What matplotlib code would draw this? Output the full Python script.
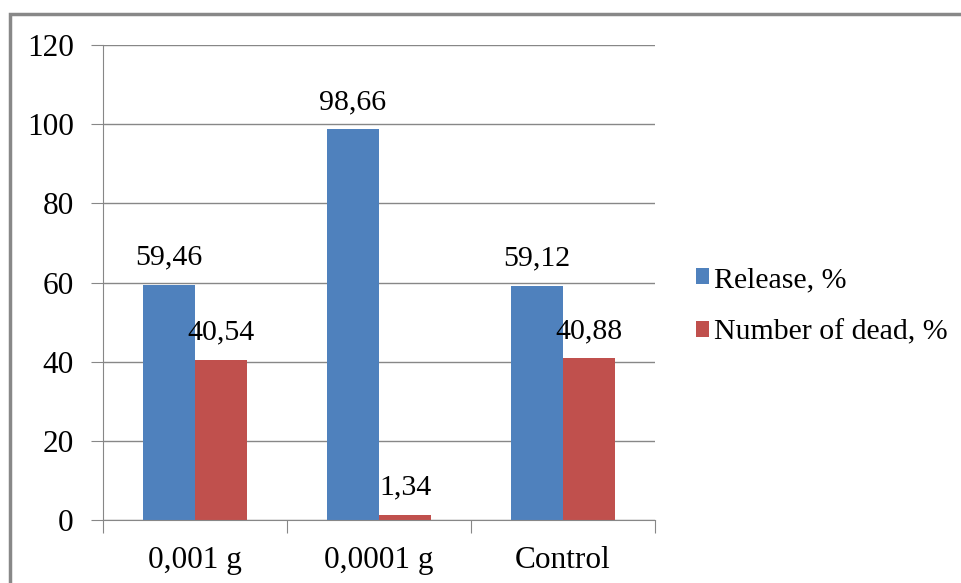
import numpy as np
import matplotlib.pyplot as plt
from matplotlib.patches import Rectangle

categories = ['0,001 g', '0,0001 g', 'Control']
release = [59.46, 98.66, 59.12]
dead = [40.54, 1.34, 40.88]
release_lbl = ['59,46', '98,66', '59,12']
dead_lbl = ['40,54', '1,34', '40,88']

plt.rcParams['font.family'] = ['Liberation Serif', 'DejaVu Serif']

blue = '#4F81BD'
red = '#C0504D'
grid = '#878787'

fig = plt.figure(figsize=(9.61, 5.83), dpi=100)
ax = fig.add_axes([103/961, 1 - 520/583, (655-103)/961, (520-45)/583])

ind = np.arange(len(categories))
w = 0.283
b1 = ax.bar(ind - w, release, w, align='edge', color=blue)
b2 = ax.bar(ind, dead, w, align='edge', color=red)

for rect, t in zip(b1, release_lbl):
	ax.text(rect.get_x() + rect.get_width()/2., rect.get_height() + 3.6, t,
			ha='center', va='bottom', fontsize=21.5)
for rect, t in zip(b2, dead_lbl):
	ax.text(rect.get_x() + rect.get_width()/2., rect.get_height() + 3.6, t,
			ha='center', va='bottom', fontsize=21.5)

ax.set_xlim(-0.5, 2.5)
ax.set_ylim(0, 120)
ax.set_yticks(range(0, 121, 20))
ax.yaxis.grid(True, color=grid, linewidth=1)
ax.set_axisbelow(True)
ax.set_xticks([-0.5, 0.5, 1.5, 2.5], minor=False)
ax.set_xticklabels([])
ax.set_xticks(ind, minor=True)
ax.set_xticklabels(categories, minor=True)
ax.tick_params(axis='x', which='minor', length=0, labelsize=22.5, pad=19)
ax.tick_params(axis='x', which='major', length=9, color=grid, direction='out')
ax.tick_params(axis='y', length=9, color=grid, labelsize=22.5, pad=12)
for s in ['top', 'right']:
	ax.spines[s].set_visible(False)
ax.spines['left'].set_color(grid)
ax.spines['bottom'].set_color(grid)

ax.legend((b1[0], b2[0]), ('Release, %', 'Number of dead, %'),
		  loc='center left', bbox_to_anchor=(1.025, 0.45), frameon=False,
		  fontsize=21.5, handlelength=0.45, handleheight=0.45, handletextpad=0.15,
		  labelspacing=0.88)

fig.patches.append(Rectangle((10/961, -0.1), 1.2, 1 - 14/583 + 0.1,
							 transform=fig.transFigure, fill=False,
							 edgecolor='#888888', linewidth=2.5))

plt.savefig('out.png', dpi=100)
